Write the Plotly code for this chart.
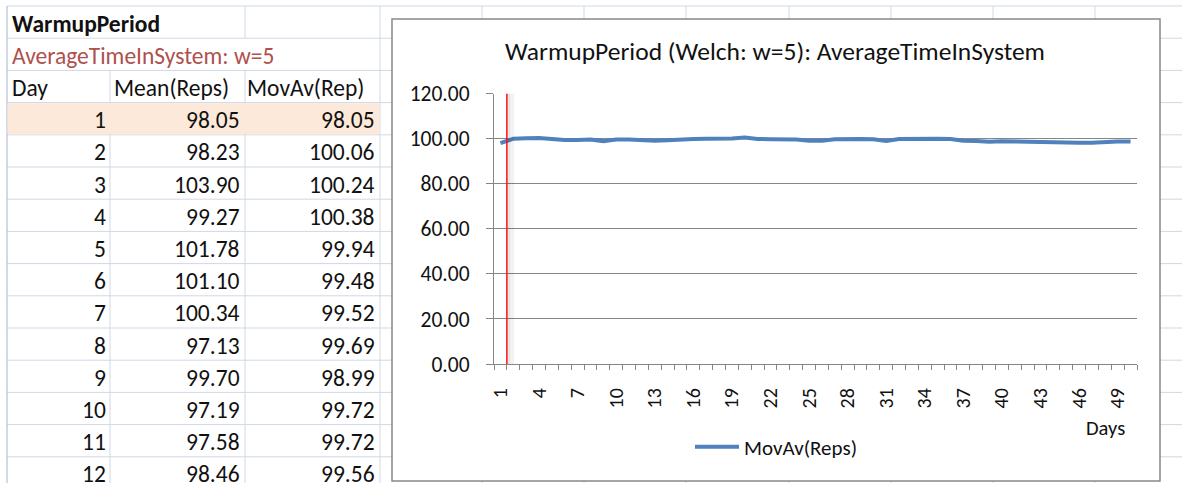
import plotly.graph_objects as go

W, H = 1182, 483

# ---- data -----------------------------------------------------------------
days = list(range(1, 51))
mov_av = [98.05, 100.06, 100.24, 100.38, 99.94, 99.48, 99.52, 99.69, 98.99, 99.72,
          99.72, 99.56, 99.10, 99.40, 99.80, 99.95, 100.00, 100.02, 100.10, 100.55,
          99.95, 99.85, 99.95, 99.70, 99.15, 99.20, 99.80, 100.00, 99.95, 99.85,
          99.10, 99.90, 100.05, 100.10, 100.05, 99.90, 99.20, 99.05, 98.75, 98.95,
          98.80, 98.70, 98.30, 98.20, 98.25, 98.25, 98.30, 98.70, 98.80, 98.85]

table_days = [1, 2, 3, 4, 5, 6, 7, 8, 9, 10, 11, 12]
mean_reps = [98.05, 98.23, 103.90, 99.27, 101.78, 101.10, 100.34, 97.13, 99.70,
             97.19, 97.58, 98.46]
table_mov_av = mov_av[:len(table_days)]

warmup_day = 1
sheet_title = "WarmupPeriod"
sheet_subtitle = "AverageTimeInSystem: w=5"
col_headers = ["Day", "Mean(Reps)", "MovAv(Rep)"]
chart_title = "WarmupPeriod (Welch: w=5): AverageTimeInSystem"
series_name = "MovAv(Reps)"
x_title = "Days"

# ---- helpers: pixel -> paper coordinates ---------------------------------
def px(x):
    return x / W


def py(y):
    return 1 - y / H


FONT = "Carlito, Calibri, Lato, sans-serif"
GRID = "#D0D7E5"
TXT = "#111111"
CELL_SIZE = 23.5

shapes = []


def hline(y, x0, x1, color=GRID, width=1):
    shapes.append(dict(type="line", xref="paper", yref="paper",
                       x0=px(x0), x1=px(x1), y0=py(y), y1=py(y),
                       line=dict(color=color, width=width), layer="below"))


def vline(x, y0, y1, color=GRID, width=1):
    shapes.append(dict(type="line", xref="paper", yref="paper",
                       x0=px(x), x1=px(x), y0=py(y0), y1=py(y1),
                       line=dict(color=color, width=width), layer="below"))


# ---- worksheet grid ----------------------------------------------------------
ROW0, ROWH = 6.0, 32.2
row_edges = [ROW0 + ROWH * k for k in range(15)]
col_edges = [7, 110, 245, 380, 482, 584, 686, 789, 891, 993, 1095]

for y in row_edges:
    hline(y, 7, W)

vline(7, ROW0, H, color="#B4C2D6", width=1.2)
vline(110, row_edges[2], H)
vline(245, ROW0, row_edges[1])
vline(245, row_edges[2], H)
for x in col_edges[3:]:
    vline(x, ROW0, H)

# highlighted first data row
shapes.append(dict(type="rect", xref="paper", yref="paper",
                   x0=px(7.6), x1=px(379.5), y0=py(row_edges[3] + 0.6), y1=py(row_edges[4] - 0.6),
                   fillcolor="#FDE9D9", line=dict(width=0), layer="below"))

# chart object frame
shapes.append(dict(type="rect", xref="paper", yref="paper",
                   x0=px(392), x1=px(1160), y0=py(481), y1=py(19),
                   fillcolor="white", line=dict(color="#888888", width=1.5), layer="below"))

# warm-up marker: end of the warm-up period, with a soft drop shadow
cut = warmup_day + 0.5
shapes.append(dict(type="line", xref="x", yref="y domain", x0=cut + 0.3, x1=cut + 0.3,
                   y0=0, y1=1, line=dict(color="rgba(0,0,0,0.05)", width=7), layer="above"))
shapes.append(dict(type="line", xref="x", yref="y domain", x0=cut + 0.15, x1=cut + 0.15,
                   y0=0, y1=1, line=dict(color="rgba(0,0,0,0.05)", width=3), layer="above"))
shapes.append(dict(type="line", xref="x", yref="y domain", x0=cut, x1=cut,
                   y0=0, y1=1, line=dict(color="#FF1010", width=1.5), layer="above"))

# ---- worksheet text ------------------------------------------------------
annotations = []


def cell_text(text, x, row, anchor, color=TXT, size=CELL_SIZE, bold=False):
    yc = row_edges[row] + ROWH / 2 + 1.5
    annotations.append(dict(text=f"<b>{text}</b>" if bold else text,
                            x=px(x), y=py(yc), xref="paper", yref="paper",
                            xanchor=anchor, yanchor="middle", showarrow=False,
                            font=dict(family=FONT, size=size, color=color)))


cell_text(sheet_title, 10, 0, "left", bold=True)
cell_text(sheet_subtitle, 10, 1, "left", color="#B0504C")
cell_text(col_headers[0], 10, 2, "left")
cell_text(col_headers[1], 112, 2, "left")
cell_text(col_headers[2], 245, 2, "left")
for i, (d, m, a) in enumerate(zip(table_days, mean_reps, table_mov_av)):
    cell_text(str(d), 108, 3 + i, "right")
    cell_text(f"{m:.2f}", 242, 3 + i, "right")
    cell_text(f"{a:.2f}", 377, 3 + i, "right")

annotations.append(dict(text=x_title, x=px(1105), y=py(428), xref="paper", yref="paper",
                        xanchor="center", yanchor="middle", showarrow=False,
                        font=dict(family=FONT, size=20.5, color=TXT)))

# ---- chart ---------------------------------------------------------------
fig = go.Figure()
fig.add_trace(go.Scatter(x=days, y=mov_av, mode="lines", name=series_name,
                         line=dict(color="#4F81BD", width=4)))

fig.update_layout(
    width=W, height=H,
    margin=dict(l=0, r=0, t=0, b=0, autoexpand=False),
    paper_bgcolor="white", plot_bgcolor="rgba(0,0,0,0)",
    font=dict(family=FONT, color=TXT),
    title=dict(text=chart_title, x=px(775), y=py(51), xref="paper", yref="paper",
               xanchor="center", yanchor="middle", automargin=False,
               font=dict(family=FONT, size=25.5, color=TXT)),
    showlegend=True,
    legend=dict(orientation="h", x=px(690), y=py(447), xanchor="left", yanchor="middle",
                bgcolor="rgba(0,0,0,0)", itemwidth=44,
                font=dict(family=FONT, size=21, color=TXT)),
    xaxis=dict(domain=[px(494), px(1137)], range=[0.5, 50.5], automargin=False,
               tickmode="linear", tick0=1, dtick=3, tickangle=-90,
               ticks="outside", ticklen=0, showgrid=False, zeroline=False,
               showline=True, linecolor="#868686", linewidth=1.3,
               ticklabelstandoff=15,
               tickfont=dict(family=FONT, size=20, color=TXT),
               minor=dict(tick0=0.5, dtick=1, ticks="outside", ticklen=5,
                          tickcolor="#868686", tickwidth=1.3, showgrid=False)),
    yaxis=dict(domain=[py(364), py(93.8)], range=[0, 120], dtick=20, automargin=False,
               tickformat=".2f", ticks="outside", ticklen=7,
               tickcolor="#868686", tickwidth=1.3,
               showgrid=True, gridcolor="#868686", gridwidth=1.3,
               zeroline=False, showline=True, linecolor="#868686", linewidth=1.3,
               ticklabelstandoff=12,
               tickfont=dict(family=FONT, size=21.5, color=TXT)),
    shapes=shapes,
    annotations=annotations,
)

fig.write_html("out.html")
